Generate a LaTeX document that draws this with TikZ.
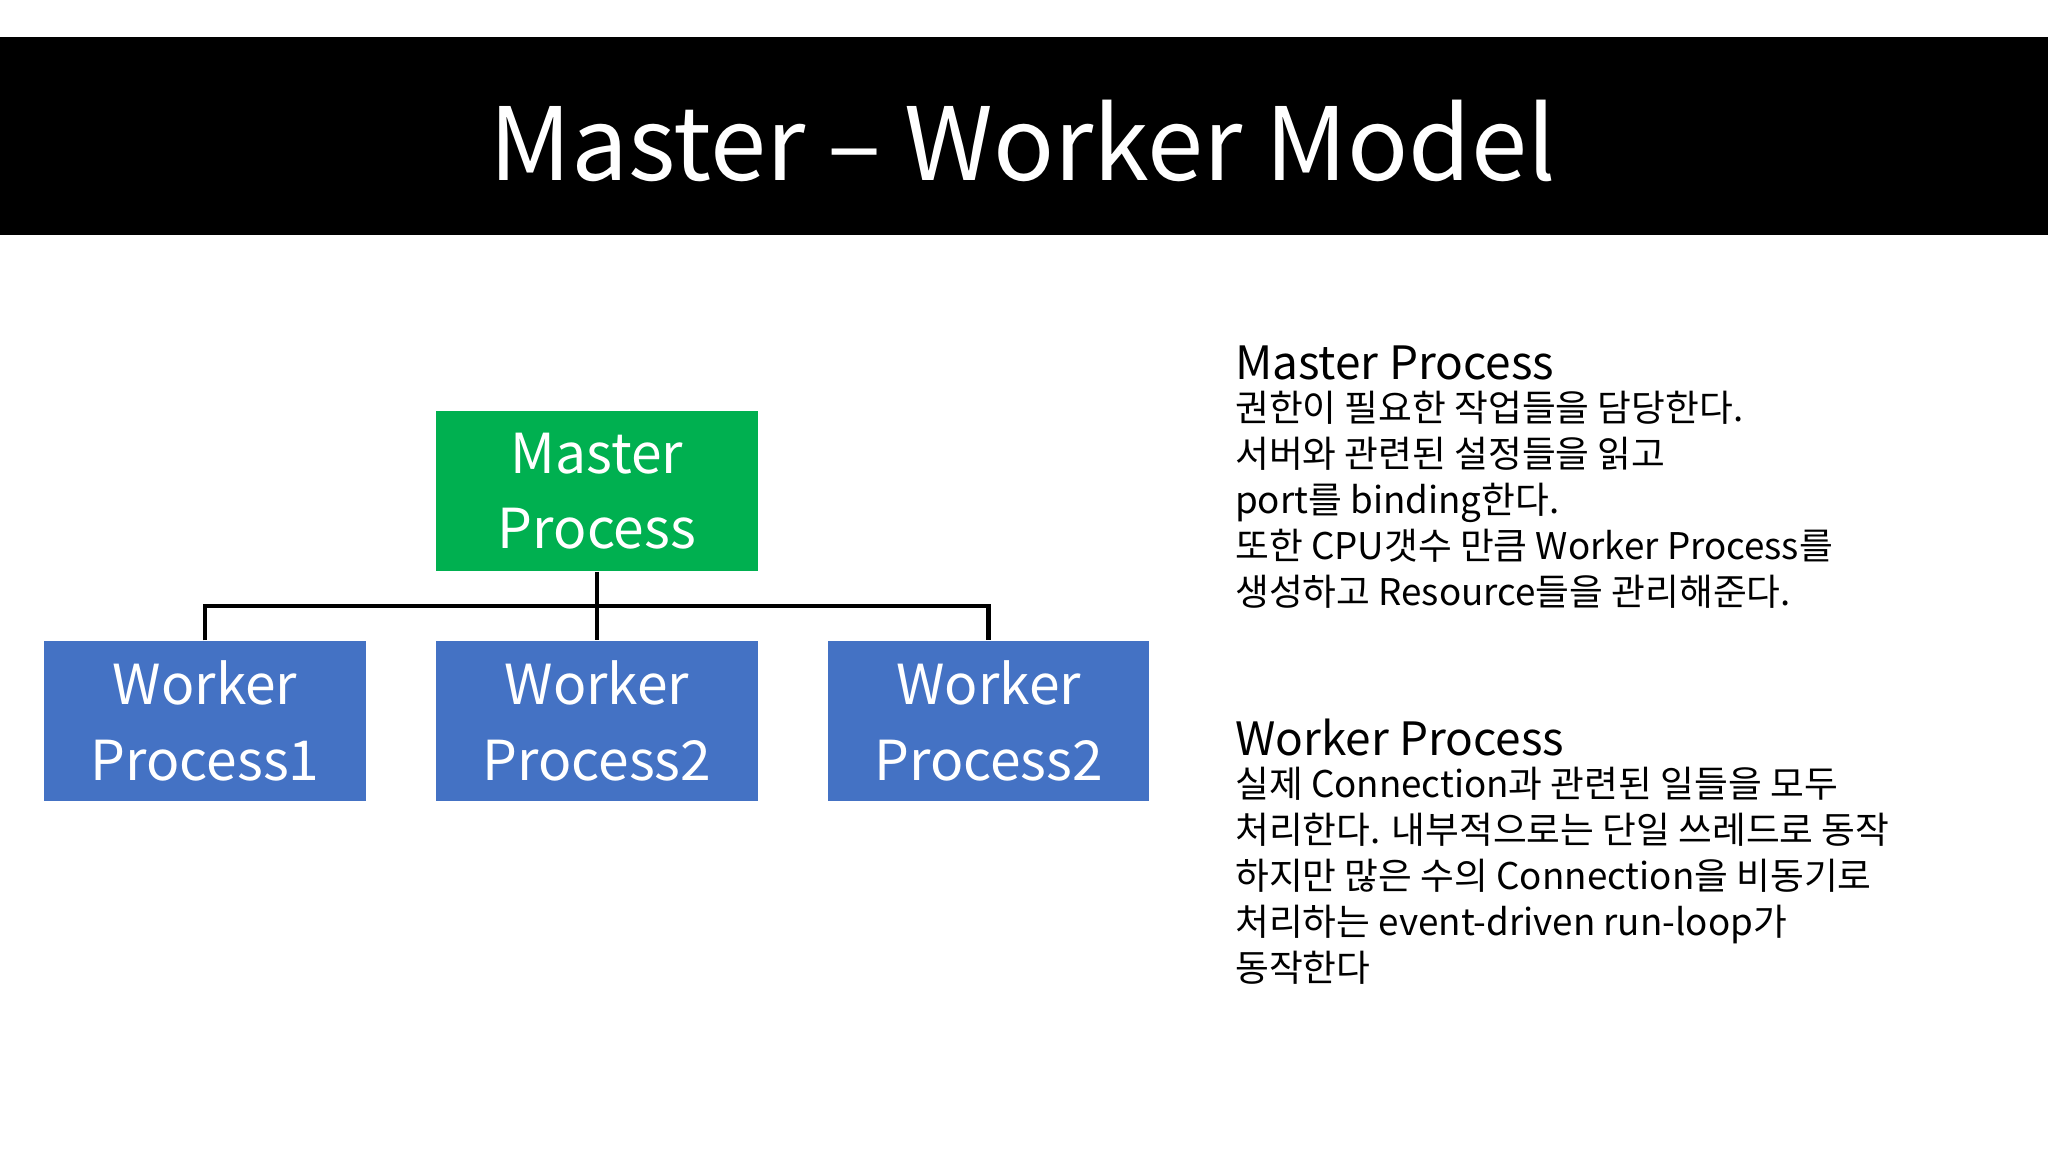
\documentclass[tikz,border=0pt]{standalone}
\usepackage{fontspec}
\usetikzlibrary{positioning}
\setmainfont{Noto Sans CJK KR}
\definecolor{mastergreen}{RGB}{0,176,80}
\definecolor{workerblue}{RGB}{68,114,196}
\begin{document}
\begin{tikzpicture}
[x=0.01cm,y=-0.01cm,
box/.style={minimum width=2.46cm,minimum height=1.22cm,text=white,align=center,
  font=\fontsize{12}{16.5}\selectfont,inner sep=0pt},
note/.style={anchor=north west,align=left,inner sep=0pt,
  font=\fontsize{8}{10}\selectfont},
]
\useasboundingbox (0,0) rectangle (1568,882);
\fill[black] (0,28) rectangle (1568,180);
\node[text=white,font=\fontsize{22}{26}\selectfont] (title) at (783,108) {Master – Worker Model};
\node[box,fill=mastergreen] (master) at (457,376) {Master\\Process};
\node[box,fill=workerblue] (worker1) at (157,552) {Worker\\Process1};
\node[box,fill=workerblue] (worker2) at (457,552) {Worker\\Process2};
\node[box,fill=workerblue] (worker3) at (757,552) {Worker\\Process2};
\coordinate (bus) at (457,464);
\draw[line width=1pt] (master.south) -- (worker2.north);
\draw[line width=1pt] (worker1.north) |- (bus) -| (worker3.north);
\node[note,font=\fontsize{10}{12}\selectfont] (mhead) at (945,264) {Master Process};
\node[note,below=2pt of mhead.south west,anchor=north west] (mtext)
  {권한이 필요한 작업들을 담당한다.\\서버와 관련된 설정들을 읽고\\port를 binding한다.\\또한 CPU갯수 만큼 Worker Process를\\생성하고 Resource들을 관리해준다.};
\node[note,font=\fontsize{10}{12}\selectfont] (whead) at (945,550) {Worker Process};
\node[note,below=2pt of whead.south west,anchor=north west] (wtext)
  {실제 Connection과 관련된 일들을 모두\\처리한다. 내부적으로는 단일 쓰레드로 동작\\하지만 많은 수의 Connection을 비동기로\\처리하는 event-driven run-loop가\\동작한다};
\end{tikzpicture}
\end{document}
